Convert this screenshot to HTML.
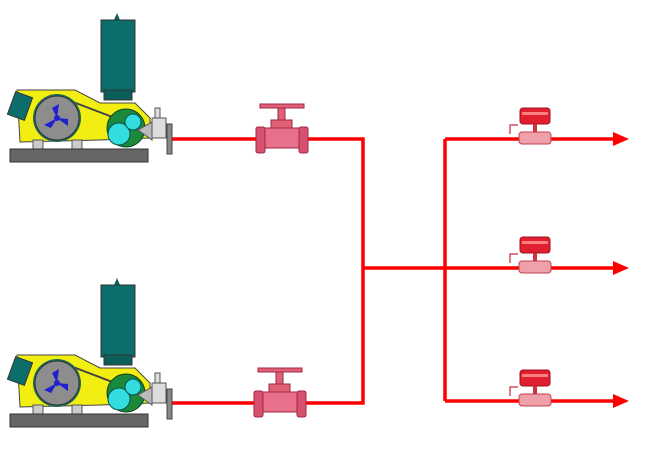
<!DOCTYPE html>
<html><head><meta charset="utf-8"><style>
html,body{margin:0;padding:0;background:#fff;width:651px;height:450px;overflow:hidden}
</style></head><body>
<svg width="651" height="450" viewBox="0 0 651 450" xmlns="http://www.w3.org/2000/svg">
<defs>
<g id="pump">
  <path d="M114 20 L117 13 L120 20 Z" fill="#0b5e5a"/>
  <rect x="101" y="20" width="34" height="72" fill="#0b6e6a" stroke="#333" stroke-width="1"/>
  <rect x="104" y="90" width="28" height="10" fill="#0b5e5a" stroke="#333" stroke-width="1"/>
  <path d="M17 90 L75 90 L100 103 L135 103 L150 118 L150 138 L100 140 L20 142 Z" fill="#f2ee12" stroke="#444" stroke-width="1"/>
  <rect x="11" y="94" width="18" height="24" fill="#0b6e6a" stroke="#333" transform="rotate(20 20 106)"/>
  <path d="M60 97 L115 118" stroke="#444" stroke-width="2"/>
  <circle cx="57" cy="118" r="24" fill="#1b6a5a"/>
  <circle cx="57" cy="118" r="22" fill="#8d8d8d" stroke="#333"/>
  <path d="M57 118 L59 104 L52 108 Z M57 118 L44 125 L51 128 Z M57 118 L68 126 L68 119 Z" fill="#2020d0"/>
  <circle cx="57" cy="118" r="3" fill="#2020d0"/>
  <rect x="33" y="140" width="10" height="10" fill="#ccc" stroke="#555"/>
  <rect x="72" y="140" width="10" height="10" fill="#ccc" stroke="#555"/>
  <circle cx="126" cy="128" r="19" fill="#1a8a3a" stroke="#0b4020"/>
  <circle cx="119" cy="134" r="11" fill="#33dddd" stroke="#0a5050"/>
  <circle cx="133" cy="122" r="8" fill="#33dddd" stroke="#0a5050"/>
  <path d="M138 130 L152 122 L152 140 Z" fill="#bbb" stroke="#555"/>
  <rect x="152" y="118" width="14" height="20" fill="#ddd" stroke="#555"/>
  <rect x="155" y="108" width="5" height="10" fill="#ddd" stroke="#555"/>
  <rect x="167" y="124" width="5" height="30" fill="#888" stroke="#444"/>
  <rect x="10" y="149" width="138" height="13" fill="#666" stroke="#333"/>
</g>
<g id="gv">
  <rect x="260" y="104" width="44" height="4" fill="#e06078" stroke="#a02840"/>
  <rect x="278" y="108" width="7" height="12" fill="#e06078" stroke="#a02840"/>
  <rect x="271" y="120" width="21" height="8" fill="#e06078" stroke="#a02840"/>
  <rect x="262" y="128" width="40" height="20" fill="#e8708a" stroke="#a02840"/>
  <rect x="256" y="127" width="9" height="26" rx="2" fill="#d85070" stroke="#a02840"/>
  <rect x="299" y="127" width="9" height="26" rx="2" fill="#d85070" stroke="#a02840"/>
</g>
<g id="sv">
  <rect x="520" y="108" width="30" height="16" rx="3" fill="#e02030" stroke="#a01020"/>
  <rect x="522" y="112" width="26" height="3" fill="#ff8080"/>
  <rect x="533" y="124" width="4" height="8" fill="#d03040"/>
  <path d="M510 134 L510 125 L518 125" fill="none" stroke="#d05060" stroke-width="1.5"/>
  <rect x="519" y="132" width="32" height="12" rx="3" fill="#f0a0a8" stroke="#c04050"/>
</g>
</defs>
<g stroke="#ff0000" stroke-width="3.5" fill="none">
  <path d="M172 139 H258 M306 139 H363 V403 H306 M258 403 H172"/>
  <path d="M363 268 H616"/>
  <path d="M445 139 V401"/>
  <path d="M445 139 H616 M445 401 H616"/>
</g>
<g fill="#ff0000">
  <path d="M613 132 L629 139 L613 146 Z"/>
  <path d="M613 261 L629 268 L613 275 Z"/>
  <path d="M613 394 L629 401 L613 408 Z"/>
</g>
<use href="#pump"/>
<use href="#pump" transform="translate(0,265)"/>
<use href="#gv"/>
<use href="#gv" transform="translate(-2,264)"/>
<use href="#sv"/>
<use href="#sv" transform="translate(0,129)"/>
<use href="#sv" transform="translate(0,262)"/>
</svg>
</body></html>
